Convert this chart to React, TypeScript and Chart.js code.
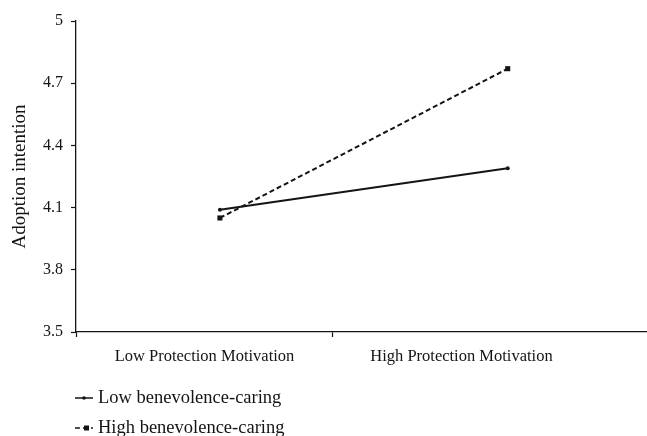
import React, { useEffect, useRef } from "react";
import { Chart, registerables } from "chart.js";

Chart.register(...registerables);

const categories = ["Low Protection Motivation", "High Protection Motivation"];
const categoryTickPositions = [0.5, 1.5];
const pointX = [0.56, 1.68];
const lowBenevolence = [4.09, 4.29];
const highBenevolence = [4.05, 4.77];
const yTickLabels = ["3.5", "3.8", "4.1", "4.4", "4.7", "5"];
const seriesNames = ["Low benevolence-caring", "High benevolence-caring"];
const yTitle = "Adoption intention";

const FONT = "'Liberation Serif', 'Times New Roman', serif";
const INK = "#141414";

const legendPlugin = {
  id: "customLegend",
  afterDraw(chart: any) {
    const { ctx, chartArea } = chart;
    const x0 = chartArea.left - 1;
    const rows = [chartArea.bottom + 66, chartArea.bottom + 96];
    ctx.save();
    chart.data.datasets.forEach((ds: any, i: number) => {
      const y = rows[i];
      ctx.strokeStyle = ds.borderColor;
      ctx.lineWidth = 1.5;
      ctx.setLineDash(ds.borderDash || []);
      ctx.beginPath();
      ctx.moveTo(x0, y);
      ctx.lineTo(x0 + 18, y);
      ctx.stroke();
      ctx.setLineDash([]);
      ctx.fillStyle = ds.borderColor;
      if (ds.pointStyle === "rect") {
        ctx.fillRect(x0 + 9, y - 2.5, 5, 5);
      } else {
        ctx.beginPath();
        ctx.arc(x0 + 9, y, 1.8, 0, Math.PI * 2);
        ctx.fill();
      }
      ctx.fillStyle = INK;
      ctx.font = `18.5px ${FONT}`;
      ctx.textAlign = "left";
      ctx.textBaseline = "middle";
      ctx.fillText(ds.label, x0 + 23, y);
    });
    ctx.restore();
  },
};

export default function App() {
  const canvasRef = useRef<HTMLCanvasElement | null>(null);

  useEffect(() => {
    const canvas = canvasRef.current;
    if (!canvas) return;
    const chart = new Chart(canvas, {
      type: "line",
      data: {
        datasets: [
          {
            label: seriesNames[0],
            data: pointX.map((x, i) => ({ x, y: lowBenevolence[i] })),
            borderColor: INK,
            backgroundColor: INK,
            borderWidth: 2,
            pointStyle: "circle",
            pointRadius: 2,
            pointBorderWidth: 0,
          },
          {
            label: seriesNames[1],
            data: pointX.map((x, i) => ({ x, y: highBenevolence[i] })),
            borderColor: INK,
            backgroundColor: INK,
            borderWidth: 2,
            borderDash: [5, 3],
            pointStyle: "rect",
            pointRadius: 3.6,
            pointBorderWidth: 0,
          },
        ],
      },
      options: {
        animation: false,
        responsive: true,
        maintainAspectRatio: false,
        layout: { padding: { top: 21, right: 0, bottom: 0, left: 0 } },
        plugins: {
          legend: { display: false },
          tooltip: { enabled: false },
        },
        scales: {
          x: {
            type: "linear",
            min: 0,
            max: 2.222,
            afterBuildTicks: (scale: any) => {
              scale.ticks = [0, categoryTickPositions[0], 1, categoryTickPositions[1]].map((v) => ({ value: v }));
            },
            afterFit: (scale: any) => {
              scale.height = 104;
            },
            grid: {
              drawOnChartArea: false,
              tickLength: 5,
              tickWidth: 1.2,
              tickColor: (ctx: any) =>
                ctx.tick && (ctx.tick.value === 0 || ctx.tick.value === 1) ? INK : "rgba(0,0,0,0)",
            },
            border: { color: INK, width: 1.3 },
            ticks: {
              autoSkip: false,
              maxRotation: 0,
              padding: 10,
              color: INK,
              font: { family: FONT, size: 16.5 },
              callback: (value: any) => {
                const idx = categoryTickPositions.indexOf(Number(value));
                return idx >= 0 ? categories[idx] : "";
              },
            },
          },
          y: {
            min: 3.5,
            max: 5,
            afterFit: (scale: any) => {
              scale.width = 76;
            },
            grid: {
              drawOnChartArea: false,
              tickLength: 5,
              tickWidth: 1.2,
              tickColor: INK,
            },
            border: { color: INK, width: 1.3 },
            ticks: {
              stepSize: 0.3,
              padding: 8,
              color: INK,
              font: { family: FONT, size: 16 },
              callback: (_v: any, index: number) => yTickLabels[index],
            },
            title: {
              display: true,
              text: yTitle,
              color: INK,
              font: { family: FONT, size: 19 },
              padding: { top: 8.6, bottom: 0 },
            },
          },
        },
      },
      plugins: [legendPlugin],
    } as any);
    return () => chart.destroy();
  }, []);

  return (
    <div style={{ position: "fixed", left: 0, top: 0, width: 651, height: 436, background: "#fff" }}>
      <canvas ref={canvasRef} />
    </div>
  );
}
